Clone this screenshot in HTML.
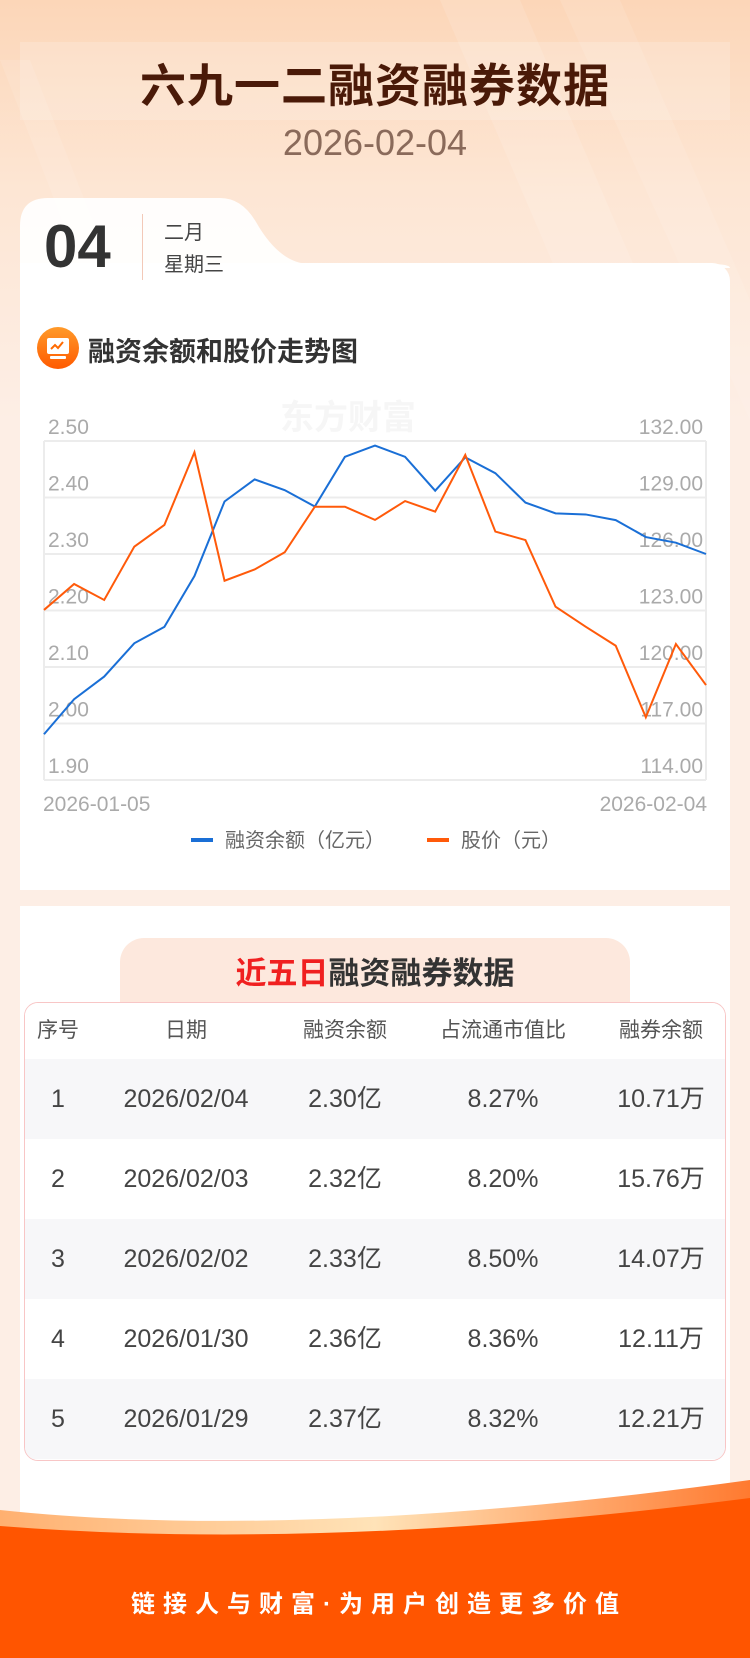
<!DOCTYPE html>
<html><head><meta charset="utf-8">
<style>
*{margin:0;padding:0;box-sizing:border-box}
body{width:750px;height:1658px;position:relative;overflow:hidden;font-family:"Liberation Sans","Noto Sans CJK SC",sans-serif;background:#fdeee5}
.abs{position:absolute}
#bg{left:0;top:0;width:750px;height:420px;background:linear-gradient(180deg,#fcd6b8 0%,#fde6d4 45%,#fdeee5 100%)}
.title{left:0;width:750px;text-align:center;top:50px;font-size:46px;font-weight:bold;color:#4a1a08;letter-spacing:1px}
.band{left:20px;top:42px;width:710px;height:78px;background:rgba(255,255,255,0.18)}
.date{left:0;width:750px;text-align:center;top:122px;font-size:36px;color:#8a6a5a}
.card{background:#fff}
.th{font-size:21px;color:#555;text-align:center}
.td{font-size:25px;color:#444;text-align:center}
</style></head><body>
<div id="bg" class="abs"></div>
<svg class="abs" style="left:0;top:0" width="750" height="420">
<polygon points="440,0 520,0 700,420 620,420" fill="#fff" opacity="0.12"/>
<polygon points="560,0 620,0 750,300 750,420" fill="#fff" opacity="0.1"/>
<polygon points="0,60 30,60 170,420 140,420" fill="#fff" opacity="0.1"/>
</svg>
<div class="abs band"></div>
<div class="abs title">六九一二融资融券数据</div>
<div class="abs date">2026-02-04</div>

<svg class="abs" style="left:20px;top:198px" width="710" height="70">
<path d="M0,70 L0,28 Q0,0 28,0 L200,0 Q222,0 236,24 Q260,66 290,66 L690,66 Q710,66 710,70 Z" fill="#fff" opacity="0.92"/>
</svg>
<div class="abs card" style="left:20px;top:263px;width:710px;height:627px;border-radius:0 18px 0 0"></div>
<div class="abs" style="left:44px;top:212px;font-size:60px;font-weight:bold;color:#333">04</div>
<div class="abs" style="left:142px;top:214px;width:1px;height:66px;background:#f3c9b8"></div>
<div class="abs" style="left:164px;top:216px;font-size:20px;color:#444">二月</div>
<div class="abs" style="left:164px;top:248px;font-size:20px;color:#444">星期三</div>

<svg class="abs" style="left:36px;top:326px" width="44" height="44">
<defs><linearGradient id="ig" x1="0" y1="0" x2="0" y2="1"><stop offset="0" stop-color="#ff9a2a"/><stop offset="1" stop-color="#ff5a00"/></linearGradient></defs>
<circle cx="22" cy="22" r="21" fill="url(#ig)"/>
<rect x="11" y="12" width="22" height="16" rx="2" fill="#fff"/>
<rect x="14" y="30" width="16" height="3" rx="1" fill="#fff"/>
<polyline points="15,23 19,19 22,22 27,16" fill="none" stroke="#ff6a00" stroke-width="2"/>
</svg>
<div class="abs" style="left:88px;top:330px;font-size:27px;font-weight:bold;color:#333">融资余额和股价走势图</div>

<div class="abs" style="left:280px;top:390px;font-size:34px;font-weight:bold;color:#f6f6f6">东方财富</div>

<svg id="chart" class="abs" style="left:0;top:380px" width="750" height="470"></svg>

<div class="abs card" style="left:20px;top:906px;width:710px;height:640px"></div>
<div class="abs" style="left:120px;top:938px;width:510px;height:66px;background:#fde8dd;border-radius:24px 24px 0 0"></div>
<div class="abs" style="left:0;width:750px;text-align:center;top:948px;font-size:31px;font-weight:bold;color:#333"><span style="color:#f02020">近五日</span>融资融券数据</div>
<div class="abs" style="left:280px;top:1220px;font-size:34px;font-weight:bold;color:#f6f6f6">东方财富</div>
<div class="abs" style="left:24px;top:1002px;width:702px;height:459px;border:1px solid #f8c6c6;border-radius:14px;overflow:hidden">
<div id="rows"></div>
</div>

<svg class="abs" style="left:0;top:1470px" width="750" height="188">
<defs><linearGradient id="fg" x1="0" y1="0" x2="1" y2="0"><stop offset="0" stop-color="#ffb070"/><stop offset="0.5" stop-color="#ffe3b8"/><stop offset="1" stop-color="#ff7a30"/></linearGradient></defs>
<path d="M0,40 Q300,72 750,10 L750,188 L0,188 Z" fill="url(#fg)"/>
<path d="M0,56 Q330,82 750,28 L750,188 L0,188 Z" fill="#ff5500"/>
</svg>
<div class="abs" style="left:4px;width:750px;text-align:center;top:1584px;font-size:24px;font-weight:bold;color:#fff;letter-spacing:8px">链接人与财富·为用户创造更多价值</div>

<script>
const dates = ["2026-01-05","2026-02-04"];
const marginBalance = [1.981,2.043,2.083,2.142,2.171,2.261,2.393,2.432,2.413,2.384,2.472,2.492,2.472,2.412,2.471,2.443,2.391,2.372,2.37,2.36,2.33,2.32,2.30];
const stockPrice = [123.03,124.41,123.56,126.39,127.54,131.40,124.58,125.18,126.09,128.51,128.51,127.81,128.81,128.25,131.26,127.19,126.74,123.20,122.14,121.13,117.33,121.22,119.04];
const leftTicks = ["2.50","2.40","2.30","2.20","2.10","2.00","1.90"];
const rightTicks = ["132.00","129.00","126.00","123.00","120.00","117.00","114.00"];
const tableDates = ["2026/02/04","2026/02/03","2026/02/02","2026/01/30","2026/01/29"];
const tableMargin = ["2.30亿","2.32亿","2.33亿","2.36亿","2.37亿"];
const tableRatio = ["8.27%","8.20%","8.50%","8.36%","8.32%"];
const tableShort = ["10.71万","15.76万","14.07万","12.11万","12.21万"];

const NS="http://www.w3.org/2000/svg";
const svg=document.getElementById('chart');
const L=44,R=706,T=61,B=400;
const lMin=1.9,lMax=2.5,rMin=114,rMax=132;
const xs=i=>L+(R-L)*i/(marginBalance.length-1);
const yl=v=>B-(v-lMin)/(lMax-lMin)*(B-T);
const yr=v=>B-(v-rMin)/(rMax-rMin)*(B-T);
function mk(tag,attrs){const e=document.createElementNS(NS,tag);for(const k in attrs)e.setAttribute(k,attrs[k]);svg.appendChild(e);return e;}
leftTicks.forEach((t,i)=>{
  const v=parseFloat(t),y=yl(v);
  const g=mk('line',{x1:L,x2:R,y1:y,y2:y,stroke:'#ececec','stroke-width':2});
  
  
  const a=mk('text',{x:48,y:y-7,'font-size':21,fill:'#aaa','font-family':'Liberation Sans'});a.textContent=t;
  
  
  const b=mk('text',{x:703,y:y-7,'font-size':21,fill:'#aaa','text-anchor':'end','font-family':'Liberation Sans'});b.textContent=rightTicks[i];
  
  
});
const lv=mk('line',{x1:L,x2:L,y1:T,y2:B,stroke:'#ececec','stroke-width':2});


const rv=mk('line',{x1:R,x2:R,y1:T,y2:B,stroke:'#ececec','stroke-width':2});


const d1=mk('text',{x:43,y:431,'font-size':21,fill:'#aaa','font-family':'Liberation Sans'});d1.textContent=dates[0];


const d2=mk('text',{x:707,y:431,'font-size':21,fill:'#aaa','text-anchor':'end','font-family':'Liberation Sans'});d2.textContent=dates[1];


const pb=mk('polyline',{points:marginBalance.map((v,i)=>xs(i)+','+yl(v)).join(' '),fill:'none',stroke:'#1a6fd6','stroke-width':2});


const po=mk('polyline',{points:stockPrice.map((v,i)=>xs(i)+','+yr(v)).join(' '),fill:'none',stroke:'#ff5a0a','stroke-width':2});


const l1=mk('rect',{x:191,y:458,width:22,height:4,fill:'#1a6fd6'});


const t1=mk('text',{x:225,y:467,'font-size':20,fill:'#666','font-family':'Liberation Sans, Noto Sans CJK SC'});t1.textContent='融资余额（亿元）';


const l2=mk('rect',{x:427,y:458,width:22,height:4,fill:'#ff5a0a'});


const t2=mk('text',{x:461,y:467,'font-size':20,fill:'#666','font-family':'Liberation Sans, Noto Sans CJK SC'});t2.textContent='股价（元）';



const cols=[57,185,344,502,660].map(c=>c-24);
const rows=document.getElementById('rows');
function row(cells,cls,h,bg,name){
  const r=document.createElement('div');
  
  
  r.style.cssText='position:relative;height:'+h+'px;background:'+bg;
  cells.forEach((c,j)=>{const d=document.createElement('div');d.className=cls;d.textContent=c;
    d.style.cssText+='position:absolute;width:200px;left:'+(cols[j]-100)+'px;top:0;line-height:'+h+'px';
    
    
    r.appendChild(d);});
  rows.appendChild(r);
}
row(['序号','日期','融资余额','占流通市值比','融券余额'],'th',56,'#fff','table-header');
tableDates.forEach((d,i)=>row([String(i+1),d,tableMargin[i],tableRatio[i],tableShort[i]],'td',80,i%2==0?'#f7f7f9':'#fff','table-row'));
</script>
</body></html>
